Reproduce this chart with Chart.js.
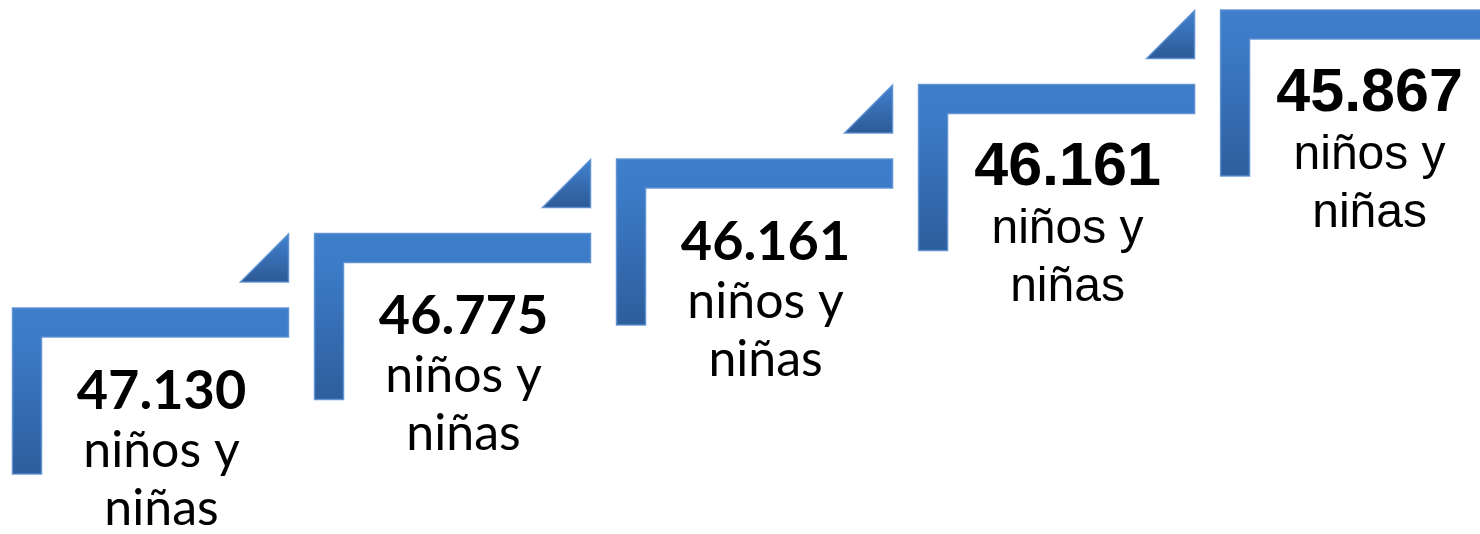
<!DOCTYPE html>
<html lang="es">
<head>
<meta charset="utf-8">
<title>Escalera niños y niñas</title>
<script src="https://cdn.jsdelivr.net/npm/chart.js@4.4.1/dist/chart.umd.min.js"></script>
<style>
    html, body { margin: 0; padding: 0; background: #ffffff; }
    #escalera { display: block; }
</style>
</head>
<body>
<canvas id="escalera" width="1480" height="534"></canvas>
<script>
/* Escalera: cinco peldaños con el total de niños y niñas */

const peldanos = [0, 1, 2, 3, 4];
const valores = [47130, 46775, 46161, 46161, 45867];
const rotulo = ['niños y', 'niñas'];

// los tres primeros van en una letra tipo Calibri, los dos últimos en Arial
function fuentes(i) {
    if (i < 3) return { num: 'bold 54px Lato', txt: '50px Lato' };
    return { num: 'bold 61px "Liberation Sans"', txt: '48px "Liberation Sans"' };
}

function formatear(v) {
    return String(v).replace(/\B(?=(\d{3})+(?!\d))/g, '.');
}

const ANCHO = 276, GROSOR = 29, ALTO = 166, TRI = 48, HUECO = 26;

const pluginEscalera = {
    id: 'escalera',
    afterDatasetsDraw(chart) {
        const ctx = chart.ctx;
        const meta = chart.getDatasetMeta(0);
        meta.data.forEach((pt, i) => {
            const L = pt.x, T = pt.y;
            ctx.save();

            // peldaño en forma de L
            let g = ctx.createLinearGradient(0, T, 0, T + ALTO);
            g.addColorStop(0, '#3e7ecb');
            g.addColorStop(0.2, '#3c7bc7');
            g.addColorStop(1, '#2d5e9d');
            ctx.beginPath();
            ctx.moveTo(L, T);
            ctx.lineTo(L + ANCHO, T);
            ctx.lineTo(L + ANCHO, T + GROSOR);
            ctx.lineTo(L + GROSOR, T + GROSOR);
            ctx.lineTo(L + GROSOR, T + ALTO);
            ctx.lineTo(L, T + ALTO);
            ctx.closePath();
            ctx.fillStyle = g;
            ctx.fill();
            ctx.strokeStyle = 'rgba(92,143,210,0.9)';
            ctx.lineWidth = 1.5;
            ctx.stroke();

            // triángulo sobre la esquina
            const base = T - HUECO, R = L + ANCHO;
            g = ctx.createLinearGradient(0, base - TRI, 0, base);
            g.addColorStop(0, '#4282cf');
            g.addColorStop(1, '#2c5a96');
            ctx.beginPath();
            ctx.moveTo(R - TRI, base);
            ctx.lineTo(R, base - TRI);
            ctx.lineTo(R, base);
            ctx.closePath();
            ctx.fillStyle = g;
            ctx.fill();
            ctx.strokeStyle = 'rgba(92,143,210,0.9)';
            ctx.lineWidth = 1.5;
            ctx.stroke();

            // textos
            const f = fuentes(i);
            const cx = L + 149;
            ctx.fillStyle = '#000000';
            ctx.textAlign = 'center';
            ctx.textBaseline = 'alphabetic';
            ctx.font = f.num;
            ctx.fillText(formatear(valores[i]), cx, T + 101);
            ctx.font = f.txt;
            ctx.fillText(rotulo[0], cx, T + 159);
            ctx.fillText(rotulo[1], cx, T + 217);
            ctx.restore();
        });
    }
};

const ctx = document.getElementById('escalera').getContext('2d');
const chart = new Chart(ctx, {
    type: 'scatter',
    data: {
        datasets: [{
            label: 'Niños y niñas',
            data: peldanos.map(p => ({ x: p, y: p })),
            pointRadius: 0,
            pointHoverRadius: 0,
            showLine: false
        }]
    },
    options: {
        responsive: false,
        animation: false,
        events: [],
        layout: { padding: 0 },
        scales: {
            x: { type: 'linear', display: false, min: -0.0414, max: 4.859 },
            y: { type: 'linear', display: false, min: -3.034, max: 4.134 }
        },
        plugins: {
            legend: { display: false },
            tooltip: { enabled: false }
        }
    },
    plugins: [pluginEscalera]
});
</script>
</body>
</html>
